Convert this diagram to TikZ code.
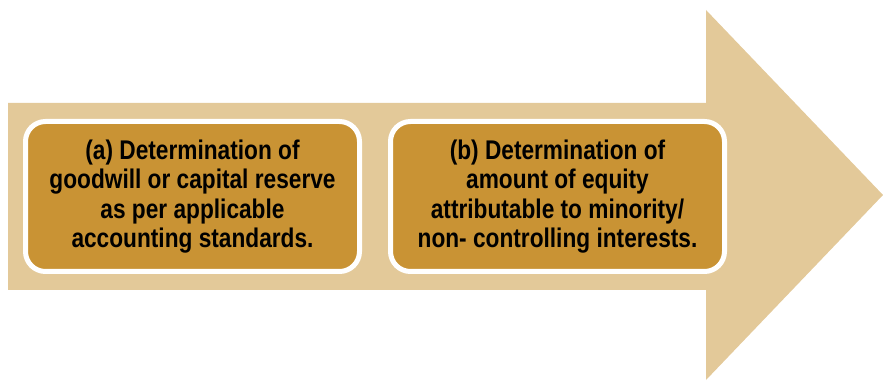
\documentclass[tikz,border=0pt]{standalone}
\usepackage{fontspec}
\setmainfont{Liberation Sans}[FakeStretch=0.84]
\usetikzlibrary{positioning}
\definecolor{arrowtan}{RGB}{227,201,153}
\definecolor{boxgold}{RGB}{201,147,52}

\begin{document}
\begin{tikzpicture}[x=1pt, y=1pt,
	stagebox/.style={rectangle, rounded corners=20pt, draw=white, line width=5pt, fill=boxgold,
		minimum width=334pt, minimum height=150pt, inner sep=0pt, align=center,
		font=\bfseries\fontsize{27}{29.5}\selectfont}]
	\useasboundingbox (0,0) rectangle (883,380);
	
	% big arrow behind the boxes
	\coordinate (tail) at (8,185);
	\coordinate (tip) at (883,185);
	\fill[arrowtan] (8,277) -- (706,277) -- (706,370) -- (tip) -- (706,0) -- (706,90) -- (8,90) -- cycle;
	
	\node[stagebox] (a) at (192.5,183.5) {(a) Determination of\\goodwill or capital reserve\\as per applicable\\accounting standards.};
	\node[stagebox, right=26pt of a] (b) {(b) Determination of\\amount of equity\\attributable to minority/\\non- controlling interests.};
\end{tikzpicture}
\end{document}
